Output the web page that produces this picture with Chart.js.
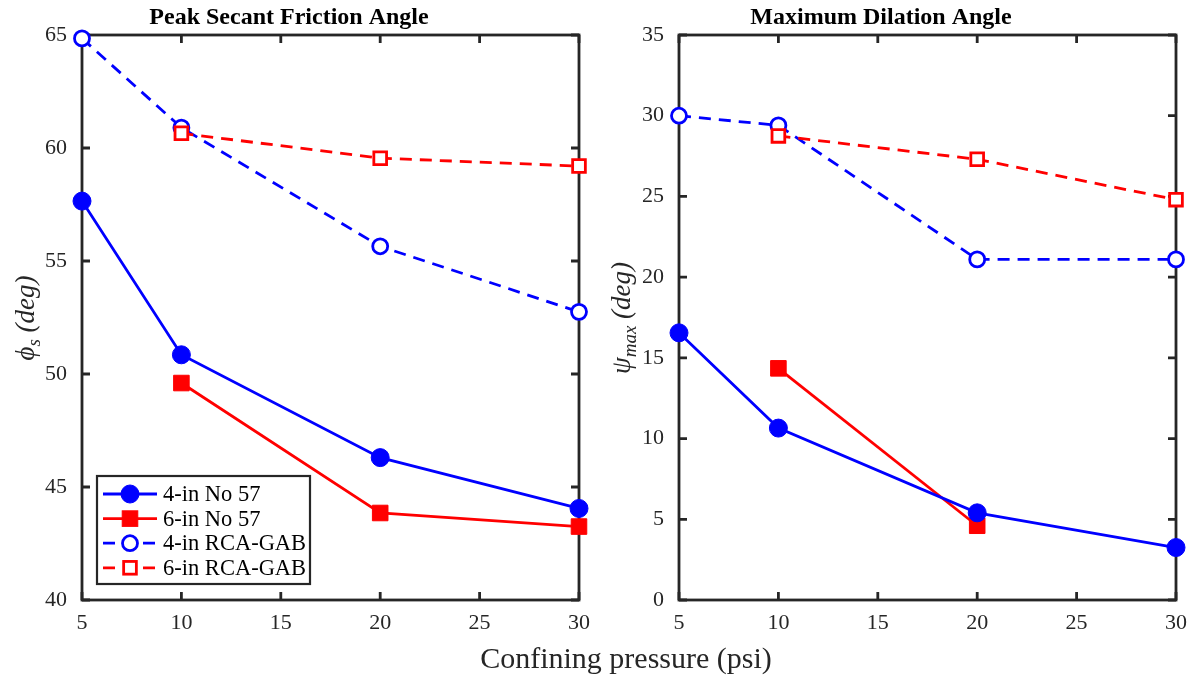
<!DOCTYPE html>
<html>
<head>
<meta charset="utf-8">
<script src="https://cdn.jsdelivr.net/npm/chart.js@4.4.1/dist/chart.umd.min.js"></script>
<style>
  body { margin: 0; background: #fff; }
  #wrap { position: relative; width: 1196px; height: 681px; overflow: hidden; }
  .panel { position: absolute; top: 0; }
  #xTitle {
    position: absolute; left: 426px; top: 641px; width: 400px; text-align: center;
    font-family: "Liberation Serif", serif; font-size: 30px; color: #262626; white-space: nowrap;
  }
</style>
</head>
<body>
<div id="wrap">
  <div class="panel" style="left:0;"><canvas id="phiChart" width="600" height="681"></canvas></div>
  <div class="panel" style="left:600px;"><canvas id="psiChart" width="596" height="681"></canvas></div>
  <div id="xTitle">Confining pressure (psi)</div>
</div>
<script>
// confining pressure (psi)
const pressures = [5, 10, 20, 30];

// peak secant friction angle (deg)
const phi4inNo57 = [57.65, 50.85, 46.3, 44.05];
const phi6inNo57 = [null, 49.6, 43.85, 43.25];
const phi4inRCA = [64.85, 60.9, 55.65, 52.75];
const phi6inRCA = [null, 60.65, 59.55, 59.2];

// maximum dilation angle (deg)
const psi4inNo57 = [16.55, 10.65, 5.4, 3.25];
const psi6inNo57 = [null, 14.35, 4.6, null];
const psi4inRCA = [30.0, 29.4, 21.1, 21.1];
const psi6inRCA = [null, 28.75, 27.3, 24.8];

const seriesNames = ['4-in No 57', '6-in No 57', '4-in RCA-GAB', '6-in RCA-GAB'];

const BLUE = '#0000ff';
const RED = '#ff0000';
const AXIS = '#262626';
const FONT = '"Liberation Serif", "Times New Roman", serif';

function toPoints(values) {
    return pressures.map((p, i) => ({ x: p, y: values[i] }));
}

function makeDatasets(a, b, c, d) {
    return [
        { label: seriesNames[0], data: toPoints(a), borderColor: BLUE, backgroundColor: BLUE,
          borderWidth: 2.8, pointStyle: 'circle', pointRadius: 9, pointBorderWidth: 1, clip: false, order: 1 },
        { label: seriesNames[1], data: toPoints(b), borderColor: RED, backgroundColor: RED,
          borderWidth: 2.8, pointStyle: 'rect', pointRadius: 11, pointBorderWidth: 1, clip: false, order: 2 },
        { label: seriesNames[2], data: toPoints(c), borderColor: BLUE, backgroundColor: '#ffffff',
          borderWidth: 2.8, borderDash: [12, 8], pointStyle: 'circle', pointRadius: 7.5, pointBorderWidth: 2.8,
          clip: false, order: 0 },
        { label: seriesNames[3], data: toPoints(d), borderColor: RED, backgroundColor: '#ffffff',
          borderWidth: 2.8, borderDash: [12, 8], pointStyle: 'rect', pointRadius: 9, pointBorderWidth: 2.8,
          clip: false, order: -1 }
    ];
}

// box, inward ticks on all four sides
const framePlugin = {
    id: 'frame',
    beforeDatasetsDraw(chart) {
        const { ctx, chartArea: a, scales } = chart;
        ctx.save();
        ctx.strokeStyle = AXIS;
        ctx.lineWidth = 2.8;
        ctx.beginPath();
        scales.x.ticks.forEach(t => {
            const px = scales.x.getPixelForValue(t.value);
            ctx.moveTo(px, a.bottom); ctx.lineTo(px, a.bottom - 8);
            ctx.moveTo(px, a.top); ctx.lineTo(px, a.top + 8);
        });
        scales.y.ticks.forEach(t => {
            const py = scales.y.getPixelForValue(t.value);
            ctx.moveTo(a.left, py); ctx.lineTo(a.left + 8, py);
            ctx.moveTo(a.right, py); ctx.lineTo(a.right - 8, py);
        });
        ctx.stroke();
        ctx.strokeRect(a.left, a.top, a.right - a.left, a.bottom - a.top);
        ctx.restore();
    }
};

// title and y-axis label with subscript
const labelPlugin = {
    id: 'labels',
    afterDraw(chart, args, opts) {
        const ctx = chart.ctx;
        ctx.save();
        ctx.fillStyle = '#000';
        ctx.font = 'bold 24px ' + FONT;
        ctx.textAlign = 'center';
        ctx.textBaseline = 'middle';
        ctx.fillText(opts.title, opts.titleX, 18);

        ctx.fillStyle = AXIS;
        ctx.translate(opts.yX, 318);
        ctx.rotate(-Math.PI / 2);
        ctx.textAlign = 'left';
        ctx.textBaseline = 'alphabetic';
        const big = 'italic 27px ' + FONT;
        const small = 'italic 19px ' + FONT;
        ctx.font = big;
        const w1 = ctx.measureText(opts.symbol).width;
        const w3 = ctx.measureText(' (deg)').width;
        ctx.font = small;
        const w2 = ctx.measureText(opts.sub).width;
        let x = -(w1 + w2 + w3) / 2;
        ctx.font = big;
        ctx.fillText(opts.symbol, x, 8);
        x += w1;
        ctx.font = small;
        ctx.fillText(opts.sub, x, 14);
        x += w2;
        ctx.font = big;
        ctx.fillText(' (deg)', x, 8);
        ctx.restore();
    }
};

// legend box inside the left plot
const legendBoxPlugin = {
    id: 'legendBox',
    afterDatasetsDraw(chart, args, opts) {
        if (!opts.show) return;
        const ctx = chart.ctx;
        const box = { x: 97, y: 476, w: 213, h: 108 };
        ctx.save();
        ctx.fillStyle = '#fff';
        ctx.fillRect(box.x, box.y, box.w, box.h);
        ctx.strokeStyle = AXIS;
        ctx.lineWidth = 2.2;
        ctx.strokeRect(box.x, box.y, box.w, box.h);
        chart.data.datasets.forEach((ds, i) => {
            const cy = 494 + i * 24.6;
            ctx.strokeStyle = ds.borderColor;
            ctx.lineWidth = ds.borderWidth;
            ctx.setLineDash(ds.borderDash || []);
            ctx.beginPath();
            ctx.moveTo(103, cy); ctx.lineTo(157, cy);
            ctx.stroke();
            ctx.setLineDash([]);
            ctx.fillStyle = ds.backgroundColor;
            ctx.lineWidth = ds.pointBorderWidth;
            const r = ds.pointRadius;
            if (ds.pointStyle === 'circle') {
                ctx.beginPath();
                ctx.arc(130, cy, r, 0, Math.PI * 2);
                ctx.fill(); ctx.stroke();
            } else {
                const s = r * Math.SQRT1_2;
                ctx.fillRect(130 - s, cy - s, 2 * s, 2 * s);
                ctx.strokeRect(130 - s, cy - s, 2 * s, 2 * s);
            }
            ctx.fillStyle = '#000';
            ctx.font = '22.5px ' + FONT;
            ctx.textAlign = 'left';
            ctx.textBaseline = 'middle';
            ctx.fillText(ds.label, 163, cy + 1);
        });
        ctx.restore();
    }
};

function buildChart(id, datasets, yMin, yMax, yWidth, padRight, labels) {
    const ctx = document.getElementById(id).getContext('2d');
    return new Chart(ctx, {
        type: 'line',
        data: { datasets: datasets },
        options: {
            responsive: false,
            animation: false,
            layout: { padding: { top: 35, right: padRight, left: 0, bottom: 0 } },
            plugins: {
                legend: { display: false },
                tooltip: { enabled: false },
                labels: labels,
                legendBox: { show: labels.legend }
            },
            scales: {
                x: {
                    type: 'linear',
                    min: 5,
                    max: 30,
                    ticks: { stepSize: 5, color: AXIS, padding: 2, font: { family: FONT, size: 22 } },
                    grid: { display: false },
                    border: { display: false },
                    afterFit: s => { s.height = 81; }
                },
                y: {
                    min: yMin,
                    max: yMax,
                    ticks: { stepSize: 5, color: AXIS, padding: 7, font: { family: FONT, size: 22 } },
                    grid: { display: false },
                    border: { display: false },
                    afterFit: s => { s.width = yWidth; }
                }
            }
        },
        plugins: [framePlugin, labelPlugin, legendBoxPlugin]
    });
}

buildChart('phiChart', makeDatasets(phi4inNo57, phi6inNo57, phi4inRCA, phi6inRCA), 40, 65, 82, 21,
    { title: 'Peak Secant Friction Angle', titleX: 289, yX: 26, symbol: '\u03d5', sub: 's', legend: true });

buildChart('psiChart', makeDatasets(psi4inNo57, psi6inNo57, psi4inRCA, psi6inRCA), 0, 35, 79, 20,
    { title: 'Maximum Dilation Angle', titleX: 281, yX: 22, symbol: '\u03c8', sub: 'max', legend: false });
</script>
</body>
</html>
